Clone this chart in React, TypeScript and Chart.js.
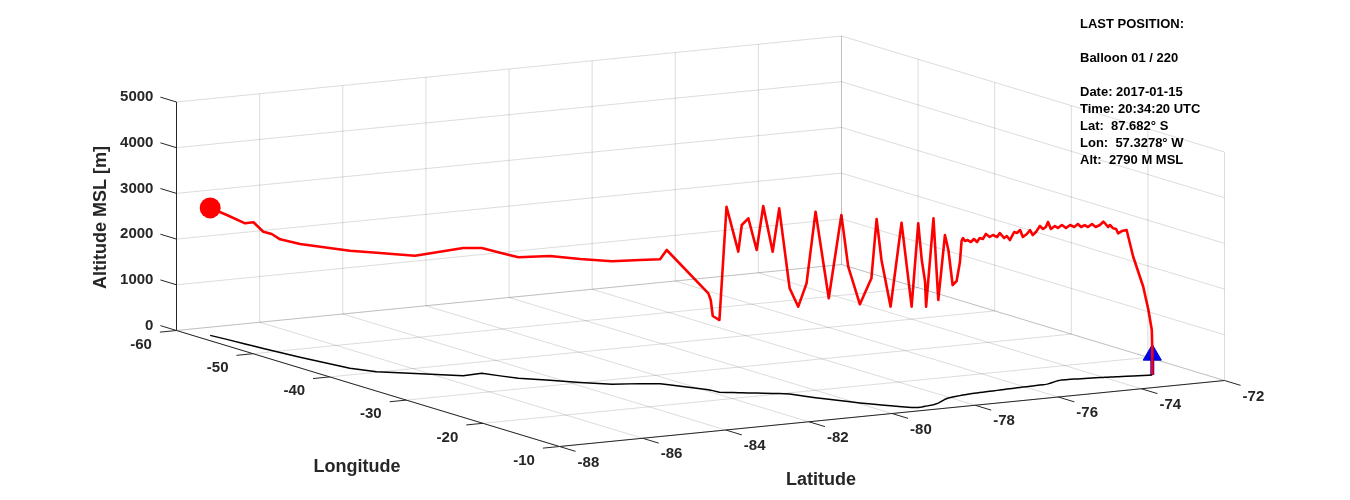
import React, { useEffect, useRef } from "react";
import { Chart, registerables } from "chart.js";

Chart.register(...registerables);

// ---- axis ticks ----
const lonTicks = [-60, -50, -40, -30, -20, -10];
const latTicks = [-88, -86, -84, -82, -80, -78, -76, -74, -72];
const altTicks = [0, 1000, 2000, 3000, 4000, 5000];

// ---- balloon track (chronological: launch -> last position) ----
const trackLon = [
  -14.11, -14.11, -14.12, -14.18, -14.26, -14.43, -14.53, -14.61, -14.67, -14.71,
  -14.76, -14.81, -14.84, -14.89, -14.92, -14.98, -15.04, -15.09, -15.13, -15.17,
  -15.21, -15.25, -15.3, -15.34, -15.39, -15.44, -15.32, -15.1, -14.81, -14.59,
  -14.5, -14.48, -14.46, -14.43, -14.41, -14.39, -14.37, -14.35, -14.33, -14.31,
  -14.29, -14.25, -14.22, -14.19, -14.15, -14.12, -14.09, -14.06, -14.02, -13.99,
  -13.96, -13.93, -13.9, -13.87, -13.84, -13.77, -13.71, -13.67, -13.61, -13.5,
  -13.37, -13.22, -12.91, -11.88, -11.53, -11.3, -11.27, -11.16, -11.13, -11.29,
  -11.9, -12.57, -13.11, -13.42, -13.72, -14.46, -15.28, -15.74, -16.63, -17.59,
  -18.28, -18.93, -19.62, -20.11, -20.37, -20.73, -20.99, -21.32, -21.58, -21.71,
  -21.9, -22.16, -22.49, -23.2, -23.41, -23.61, -26.66, -27.15, -27.82, -28.54,
  -30.15, -31.81, -33.49, -34.84, -36.27, -36.08, -38.36, -40.17, -42.14, -47.35,
  -49.51, -50.44, -51.38, -52.5, -53.43, -55.49, -57.3278,
];
const trackLat = [
  -72.98, -72.98, -72.99, -73.06, -73.17, -73.38, -73.52, -73.62, -73.7, -73.74,
  -73.8, -73.87, -73.91, -73.98, -74.01, -74.08, -74.17, -74.25, -74.34, -74.41,
  -74.49, -74.56, -74.64, -74.73, -74.82, -74.91, -75.03, -75.14, -75.29, -75.4,
  -75.47, -75.54, -75.62, -75.72, -75.8, -75.87, -75.95, -76.05, -76.12, -76.2,
  -76.27, -76.38, -76.46, -76.53, -76.64, -76.71, -76.82, -76.9, -77.0, -77.08,
  -77.16, -77.23, -77.31, -77.39, -77.47, -77.55, -77.61, -77.65, -77.7, -77.8,
  -77.92, -78.05, -78.19, -78.54, -78.72, -78.94, -78.97, -79.07, -79.16, -79.29,
  -79.42, -79.56, -79.68, -79.74, -79.81, -79.95, -80.08, -80.16, -80.3, -80.44,
  -80.53, -80.61, -80.69, -80.85, -80.96, -81.12, -81.23, -81.37, -81.48, -81.54,
  -81.62, -81.74, -81.85, -81.88, -81.89, -81.91, -82.35, -82.42, -82.78, -83.32,
  -83.79, -84.21, -84.66, -84.85, -85.03, -85.51, -86.25, -86.84, -87.12, -87.36,
  -87.44, -87.47, -87.5, -87.53, -87.56, -87.62, -87.682,
];
const trackAlt = [
  0, 547, 985, 1426, 1941, 2608, 3200, 3183, 3137, 3233,
  3251, 3327, 3285, 3376, 3406, 3338, 3298, 3369, 3309, 3357,
  3319, 3389, 3328, 3378, 3317, 3389, 3340, 3405, 3368, 3542,
  3444, 3408, 3481, 3360, 3302, 3419, 3340, 3284, 3445, 3388,
  3417, 3253, 3349, 3314, 3435, 3356, 3411, 3376, 3453, 3352,
  3382, 3303, 3377, 3320, 3372, 3362, 3436, 3376, 2924, 2523,
  2453, 3238, 3594, 2256, 4078, 2175, 2726, 3216, 4028, 2207,
  4026, 2167, 3172, 4059, 2752, 2158, 2951, 4066, 2211, 4070,
  2476, 1939, 2314, 4053, 3101, 4096, 3130, 3820, 3670, 3085,
  3485, 4064, 1578, 1633, 1973, 2111, 2944, 2722, 2705, 2689,
  2700, 2719, 2646, 2695, 2742, 2794, 2577, 2604, 2573, 2477,
  2478, 2549, 2554, 2706, 2639, 2722, 2790,
];

// launch marker (arrow) altitudes: stem bottom/top, head centre
const launchStemAlt = [0, 330];
const launchHeadAlt = [440];

const infoLines = [
  "LAST POSITION:",
  "",
  "Balloon 01 / 220",
  "",
  "Date: 2017-01-15",
  "Time: 20:34:20 UTC",
  "Lat:  87.682\u00b0 S",
  "Lon:  57.3278\u00b0 W",
  "Alt:  2790 M MSL",
];

// ---- 3D view (layout) ----
const ORIGIN = { x: 176.5, y: 330.5 };
const LON_V = { x: 7.66, y: 2.32 };
const LAT_V = { x: 41.5625, y: -4.125 };
const ALT_V = 0.0457;
const TICK_LON = 2.1;
const TICK_LAT = 0.4;

const lonMin = lonTicks[0];
const lonMax = lonTicks[lonTicks.length - 1];
const latMin = latTicks[0];
const latMax = latTicks[latTicks.length - 1];
const altMax = altTicks[altTicks.length - 1];

function proj(lon: number, lat: number, alt: number) {
  const u = lon - lonMin;
  const v = lat - latMin;
  return {
    x: ORIGIN.x + u * LON_V.x + v * LAT_V.x,
    y: ORIGIN.y + u * LON_V.y + v * LAT_V.y - alt * ALT_V,
  };
}

const FONT = '"Liberation Sans", Arial, Helvetica, sans-serif';
const GRID = "rgba(38,38,38,0.16)";
const AXIS = "#262626";

function seg(a: any, b: any, color: string, width: number) {
  return {
    data: [a, b],
    showLine: true,
    borderColor: color,
    borderWidth: width,
    pointRadius: 0,
    fill: false,
    clip: false as any,
  };
}

export default function App() {
  const ref = useRef<HTMLCanvasElement | null>(null);

  useEffect(() => {
    const canvas = ref.current;
    if (!canvas) return;

    const datasets: any[] = [];
    // floor grid
    lonTicks.forEach((lon) => datasets.push(seg(proj(lon, latMin, 0), proj(lon, latMax, 0), GRID, 1)));
    latTicks.forEach((lat) => datasets.push(seg(proj(lonMin, lat, 0), proj(lonMax, lat, 0), GRID, 1)));
    // left wall (lon = min)
    latTicks.forEach((lat) => datasets.push(seg(proj(lonMin, lat, 0), proj(lonMin, lat, altMax), GRID, 1)));
    altTicks.forEach((a) => datasets.push(seg(proj(lonMin, latMin, a), proj(lonMin, latMax, a), GRID, 1)));
    // back wall (lat = max)
    lonTicks.forEach((lon) => datasets.push(seg(proj(lon, latMax, 0), proj(lon, latMax, altMax), GRID, 1)));
    altTicks.forEach((a) => datasets.push(seg(proj(lonMin, latMax, a), proj(lonMax, latMax, a), GRID, 1)));

    // axes
    datasets.push(seg(proj(lonMin, latMin, 0), proj(lonMin, latMin, altMax), AXIS, 1));
    datasets.push(seg(proj(lonMin, latMin, 0), proj(lonMax, latMin, 0), AXIS, 1));
    datasets.push(seg(proj(lonMax, latMin, 0), proj(lonMax, latMax, 0), AXIS, 1));
    altTicks.forEach((a) => datasets.push(seg(proj(lonMin, latMin, a), proj(lonMin - TICK_LON, latMin, a), AXIS, 1)));
    lonTicks.forEach((lon) => datasets.push(seg(proj(lon, latMin, 0), proj(lon, latMin - TICK_LAT, 0), AXIS, 1)));
    latTicks.forEach((lat) => datasets.push(seg(proj(lonMax, lat, 0), proj(lonMax + TICK_LON, lat, 0), AXIS, 1)));

    // ground track
    datasets.push({
      data: trackLon.map((lon, i) => proj(lon, trackLat[i], 0)),
      showLine: true,
      borderColor: "#000000",
      borderWidth: 1.5,
      pointRadius: 0,
      borderJoinStyle: "round",
      clip: false,
    });
    // 3D track
    datasets.push({
      data: trackLon.map((lon, i) => proj(lon, trackLat[i], trackAlt[i])),
      showLine: true,
      borderColor: "#ff0000",
      borderWidth: 2.6,
      pointRadius: 0,
      borderJoinStyle: "round",
      clip: false,
    });
    // last position marker
    const last = trackLon.length - 1;
    datasets.push({
      data: [proj(trackLon[last], trackLat[last], trackAlt[last])],
      showLine: false,
      pointRadius: 10.5,
      pointBackgroundColor: "#ff0000",
      pointBorderColor: "#ff0000",
      pointBorderWidth: 0,
      clip: false,
    });
    // launch arrow
    datasets.push({
      data: launchStemAlt.map((a) => proj(trackLon[0], trackLat[0], a)),
      showLine: true,
      borderColor: "#0000ff",
      borderWidth: 4,
      pointRadius: 0,
      clip: false,
    });
    datasets.push({
      data: launchHeadAlt.map((a) => proj(trackLon[0], trackLat[0], a)),
      showLine: false,
      pointStyle: "triangle",
      pointRadius: 10.5,
      pointBackgroundColor: "#0000ff",
      pointBorderColor: "#0000cc",
      pointBorderWidth: 1,
      clip: false,
    });

    const textPlugin = {
      id: "labels3d",
      afterDatasetsDraw(chart: any) {
        const ctx = chart.ctx;
        const sx = chart.scales.x;
        const sy = chart.scales.y;
        const P = (p: any) => ({ x: sx.getPixelForValue(p.x), y: sy.getPixelForValue(p.y) });
        ctx.save();
        ctx.fillStyle = AXIS;
        ctx.font = `bold 15px ${FONT}`;
        // altitude tick labels
        ctx.textAlign = "right";
        ctx.textBaseline = "middle";
        altTicks.forEach((a) => {
          const p = P(proj(lonMin - TICK_LON, latMin, a));
          ctx.fillText(String(a), p.x - 7, p.y);
        });
        // longitude tick labels
        lonTicks.forEach((lon) => {
          const p = P(proj(lon, latMin - TICK_LAT, 0));
          ctx.fillText(String(lon), p.x - 8, p.y + 12.5);
        });
        // latitude tick labels
        ctx.textAlign = "left";
        latTicks.forEach((lat) => {
          const p = P(proj(lonMax + TICK_LON, lat, 0));
          ctx.fillText(String(lat), p.x + 2, p.y + 11);
        });
        // axis titles
        ctx.font = `bold 18px ${FONT}`;
        ctx.textAlign = "center";
        ctx.fillText("Longitude", 357, 467);
        ctx.fillText("Latitude", 821, 480);
        ctx.save();
        ctx.translate(101.5, 217.5);
        ctx.rotate(-Math.PI / 2);
        ctx.fillText("Altitude MSL [m]", 0, 0);
        ctx.restore();
        // info box
        ctx.fillStyle = "#000000";
        ctx.font = `bold 13px ${FONT}`;
        ctx.textAlign = "left";
        infoLines.forEach((t, i) => {
          if (t) ctx.fillText(t, 1080, 24.8 + i * 16.9);
        });
        ctx.restore();
      },
    };

    const chart = new Chart(canvas, {
      type: "scatter",
      data: { datasets },
      options: {
        animation: false,
        responsive: false,
        events: [],
        layout: { padding: 0, autoPadding: false },
        plugins: { legend: { display: false }, tooltip: { enabled: false } },
        scales: {
          x: { type: "linear", min: 0, max: 1350, display: false },
          y: { type: "linear", min: 0, max: 500, reverse: true, display: false },
        },
      },
      plugins: [textPlugin],
    } as any);

    return () => chart.destroy();
  }, []);

  return (
    <canvas
      ref={ref}
      width={1350}
      height={500}
      style={{ position: "absolute", left: 0, top: 0, width: 1350, height: 500, background: "#ffffff" }}
    />
  );
}
